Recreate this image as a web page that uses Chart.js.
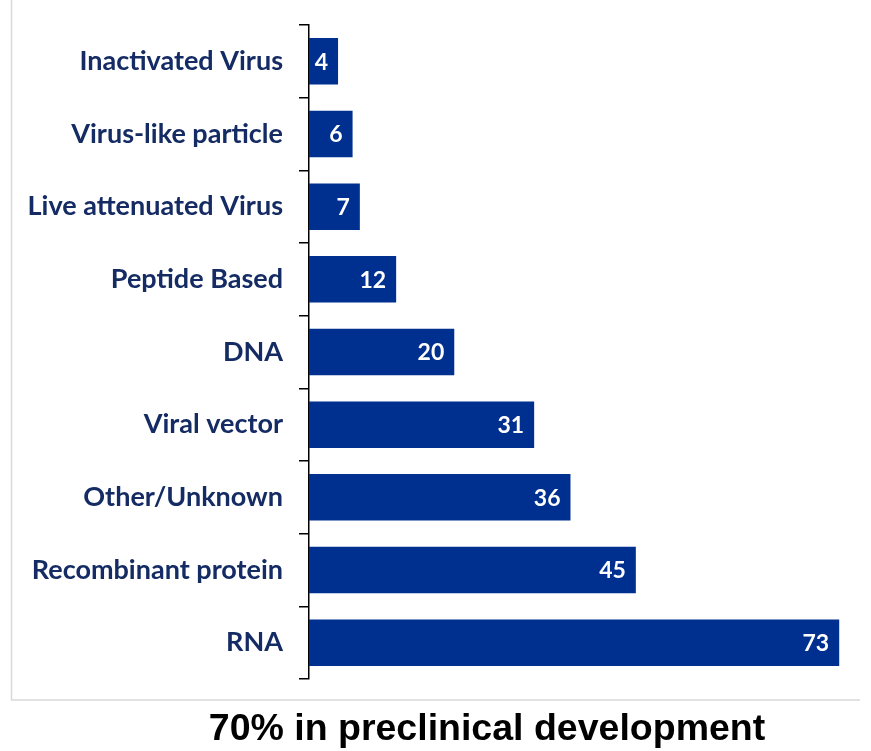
<!DOCTYPE html>
<html>
<head>
<meta charset="utf-8">
<script src="https://cdn.jsdelivr.net/npm/chart.js@4"></script>
<style>
  body { margin: 0; background: #fff; }
  #wrap { width: 871px; height: 751px; position: relative; }
</style>
</head>
<body>
<div id="wrap"><canvas id="platformChart"></canvas></div>
<script>
const categories = ['Inactivated Virus', 'Virus-like particle', 'Live attenuated Virus', 'Peptide Based',
  'DNA', 'Viral vector', 'Other/Unknown', 'Recombinant protein', 'RNA'];
const candidates = [4, 6, 7, 12, 20, 31, 36, 45, 73];
const footerText = '70% in preclinical development';

const barBlue = '#00308f';
const labelNavy = '#142b63';

// white value labels at the end of each bar
const valueLabels = {
  id: 'valueLabels',
  afterDatasetsDraw(chart) {
    const ctx = chart.ctx;
    const meta = chart.getDatasetMeta(0);
    ctx.save();
    ctx.fillStyle = '#fff';
    ctx.font = 'bold 23px Lato';
    ctx.textAlign = 'right';
    ctx.textBaseline = 'middle';
    meta.data.forEach((bar, i) => {
      ctx.fillText(String(candidates[i]), bar.x - 10, bar.y + 1);
    });
    ctx.restore();
  }
};

// thin grey frame (left + bottom) and caption under it
const frame = {
  id: 'frame',
  afterDraw(chart) {
    const ctx = chart.ctx;
    ctx.save();
    ctx.strokeStyle = '#d9d9d9';
    ctx.lineWidth = 1.5;
    ctx.beginPath();
    ctx.moveTo(11.5, 0);
    ctx.lineTo(11.5, 700);
    ctx.lineTo(860, 700);
    ctx.stroke();
    ctx.fillStyle = '#000';
    ctx.font = 'bold 37.5px "Liberation Sans", Arial';
    ctx.textAlign = 'center';
    ctx.textBaseline = 'alphabetic';
    ctx.fillText(footerText, 487, 740);
    ctx.restore();
  }
};

new Chart(document.getElementById('platformChart'), {
  type: 'bar',
  data: {
    labels: categories,
    datasets: [{
      data: candidates,
      backgroundColor: barBlue,
      barPercentage: 0.64,
      categoryPercentage: 1
    }]
  },
  options: {
    indexAxis: 'y',
    responsive: true,
    maintainAspectRatio: false,
    animation: false,
    layout: { padding: { top: 25, bottom: 72, left: 0, right: 10 } },
    plugins: {
      legend: { display: false },
      tooltip: { enabled: false }
    },
    scales: {
      x: { display: false, min: 0, max: 76 },
      y: {
        afterFit(scale) {
          scale.width = 309;
          scale.paddingTop = 0;
          scale.paddingBottom = 0;
        },
        border: { display: true, color: '#000', width: 1.5 },
        grid: {
          display: true,
          offset: true,
          drawOnChartArea: false,
          drawTicks: true,
          tickLength: 10,
          color: '#000',
          lineWidth: 1.5
        },
        ticks: {
          color: labelNavy,
          padding: 16,
          font: { family: 'Lato', weight: 'bold', size: 27 }
        }
      }
    }
  },
  plugins: [valueLabels, frame]
});
</script>
</body>
</html>
